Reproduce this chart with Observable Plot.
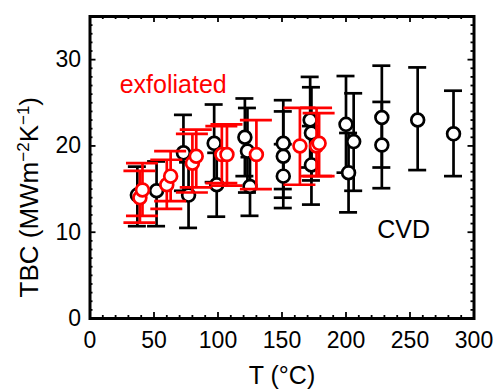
<!DOCTYPE html>
<html><head><meta charset="utf-8">
<script src="https://cdn.jsdelivr.net/npm/d3@7"></script>
<script src="https://cdn.jsdelivr.net/npm/@observablehq/plot@0.6"></script>
<style>body{margin:0;background:#fff}</style>
</head><body><div id="chart"></div>
<script>
// CVD (black) series
const cvdT    = [37, 52, 73, 77, 97, 99, 121, 123, 125, 151, 151, 151, 172, 173, 173, 200, 206, 202, 228, 228, 256, 284];
const cvdTBC  = [14.3, 14.8, 19.2, 14.3, 20.3, 15.5, 21.0, 19.4, 15.3, 20.3, 18.8, 16.5, 23.0, 21.5, 17.8, 22.5, 20.5, 16.9, 23.3, 20.1, 23.0, 21.4];
const cvdLow  = [10.7, 10.7, 14.8, 10.5, 15.8, 11.8, 16.5, 14.6, 11.9, 15.0, 14.0, 12.8, 17.5, 16.0, 13.2, 16.9, 14.8, 12.3, 17.5, 15.1, 17.2, 16.5];
const cvdHigh = [17.6, 18.2, 23.6, 18.1, 24.8, 19.2, 25.5, 24.4, 18.7, 25.3, 24.0, 20.2, 28.0, 26.8, 22.3, 28.1, 26.1, 21.5, 29.3, 25.1, 29.1, 26.4];

// exfoliated (red) series
const exfT    = [39, 41, 60, 63, 80, 83, 103, 107, 130, 164, 177, 179];
const exfTBC  = [14.0, 14.9, 15.5, 16.5, 18.0, 18.8, 19.0, 19.0, 19.0, 20.0, 20.0, 20.3];
const exfLow  = [11.1, 11.9, 12.7, 13.6, 14.6, 15.2, 15.7, 15.4, 15.0, 15.5, 16.5, 16.5];
const exfHigh = [17.1, 18.0, 18.4, 19.4, 21.4, 21.9, 22.3, 22.5, 23.0, 24.4, 24.4, 23.8];

// axis ticks
const xTicks = [0, 50, 100, 150, 200, 250, 300];
const yTicks = [0, 10, 20, 30];
const xMinor = d3.range(0, 301, 10);
const yMinor = d3.range(0, 36, 1);

// y-axis label pieces: [text, superscript?]
const yLabelParts = [["TBC (MWm", false], ["\u22122", true], ["K", false], ["\u22121", true], [")", false]];

const W = 496, H = 390, mL = 89.5, mR = 22.5, mT = 16, mB = 72;
const xMax = 300, yMax = 35;
const ux = xMax / (W - mL - mR); // data units per px (x)
const uy = yMax / (H - mT - mB); // data units per px (y)

const cvd = cvdT.map((T, i) => ({T, v: cvdTBC[i], lo: cvdLow[i], hi: cvdHigh[i]}));
const exf = exfT.map((T, i) => ({T, v: exfTBC[i], lo: exfLow[i], hi: exfHigh[i]}));

const RED = "#ff0000";
function errMarks(data, color, capPx) {
  const c = capPx * ux;
  return [
    Plot.ruleX(data, {x: "T", y1: "lo", y2: "hi", stroke: color, strokeWidth: 2.7}),
    Plot.ruleY(data, {y: "hi", x1: d => d.T - c, x2: d => d.T + c, stroke: color, strokeWidth: 2.7}),
    Plot.ruleY(data, {y: "lo", x1: d => d.T - c, x2: d => d.T + c, stroke: color, strokeWidth: 2.7})
  ];
}
function tickMarks() {
  const isMajX = d => xTicks.includes(d), isMajY = d => yTicks.includes(d);
  const lx = d => (isMajX(d) ? 6 : 3) * uy;
  const ly = d => (isMajY(d) ? 6 : 3) * ux;
  const s = {stroke: "black", strokeWidth: 1.8};
  return [
    Plot.ruleX(xMinor, {x: d => d, y1: 0, y2: d => lx(d), ...s}),
    Plot.ruleX(xMinor, {x: d => d, y1: d => yMax - lx(d), y2: yMax, ...s}),
    Plot.ruleY(yMinor, {y: d => d, x1: 0, x2: d => ly(d), ...s}),
    Plot.ruleY(yMinor, {y: d => d, x1: d => xMax - ly(d), x2: xMax, ...s})
  ];
}

const chart = Plot.plot({
  width: W, height: H,
  marginLeft: mL, marginRight: mR, marginTop: mT, marginBottom: mB,
  style: {fontFamily: "'Liberation Sans', Arial, sans-serif", fontSize: "23px", background: "white", color: "black"},
  x: {domain: [0, xMax]},
  y: {domain: [0, yMax]},
  marks: [
    Plot.axisX(xTicks, {tickSize: 0, tickPadding: 13, label: null, fontSize: 23}),
    Plot.axisY(yTicks, {tickSize: 0, tickPadding: 9, label: null, fontSize: 23}),
    ...tickMarks(),
    ...errMarks(cvd, "black", 9),
    Plot.dot(cvd, {x: "T", y: "v", r: 6.4, stroke: "black", strokeWidth: 2.7, fill: "white"}),
    ...errMarks(exf, RED, 16),
    Plot.dot(exf, {x: "T", y: "v", r: 6.4, stroke: RED, strokeWidth: 2.7, fill: "white"}),
    Plot.text(["exfoliated"], {x: 65, y: 26.1, text: d => d, fill: RED, fontSize: 25, lineAnchor: "bottom"}),
    Plot.text(["CVD"], {x: 245, y: 9.35, text: d => d, fill: "black", fontSize: 25, lineAnchor: "bottom"}),
    Plot.text([yLabelParts.map(p => p[0]).join("")], {frameAnchor: "left", text: d => d, rotate: -90, textAnchor: "start", dx: -60.5, dy: 130, fontSize: 26, fill: "black", className: "ylab"}),
    Plot.text(["T (\u00B0C)"], {frameAnchor: "bottom", text: d => d, dy: 65, lineAnchor: "bottom", fontSize: 25, fill: "black"}),
    Plot.frame({stroke: "black", strokeWidth: 3})
  ]
});

// turn the y label's exponents into real superscripts
const lab = d3.select(chart).select(".ylab text");
lab.text(null).attr("text-anchor", "start");
let raised = false;
for (const [t, sup] of yLabelParts) {
  const ts = lab.append("tspan").text(t);
  if (sup && !raised) { ts.attr("dy", "-9").attr("font-size", "17"); raised = true; }
  else if (sup) { ts.attr("font-size", "17"); }
  else if (raised) { ts.attr("dy", "9"); raised = false; }
}
document.getElementById("chart").append(chart);
</script>
</body></html>
